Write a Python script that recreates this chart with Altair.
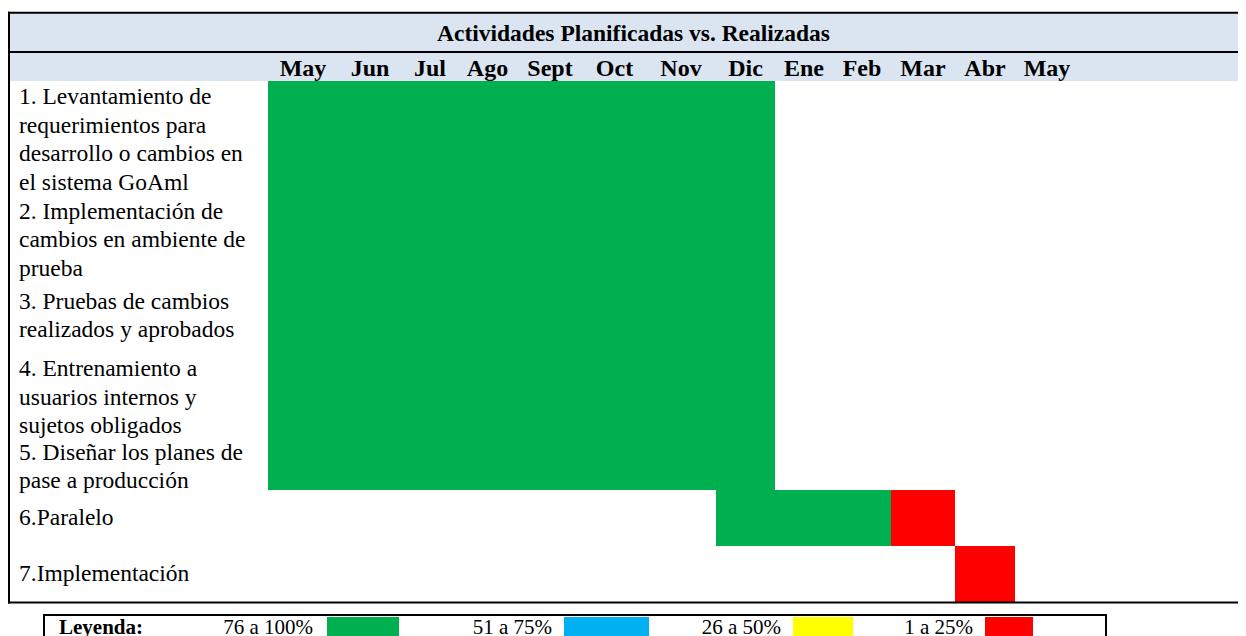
import altair as alt
import pandas as pd

# ---------------- data ----------------
title = "Actividades Planificadas vs. Realizadas"
months = ["May", "Jun", "Jul", "Ago", "Sept", "Oct", "Nov", "Dic",
          "Ene", "Feb", "Mar", "Abr", "May"]
activities = [
    "1. Levantamiento de\nrequerimientos para\ndesarrollo o cambios en\nel sistema GoAml",
    "2. Implementación de\ncambios en ambiente de\nprueba",
    "3. Pruebas de cambios\nrealizados y aprobados",
    "4. Entrenamiento a\nusuarios internos y\nsujetos obligados",
    "5. Diseñar los planes de\npase a producción",
    "6.Paralelo",
    "7.Implementación",
]
# bar segments: activity index, first month index, last month index (inclusive), progress band
seg_activity = [0, 1, 2, 3, 4, 5, 5, 6]
seg_first = [0, 0, 0, 0, 0, 7, 10, 11]
seg_last = [7, 7, 7, 7, 7, 9, 10, 11]
seg_status = ["76 a 100%", "76 a 100%", "76 a 100%", "76 a 100%", "76 a 100%",
              "76 a 100%", "1 a 25%", "1 a 25%"]
legend_title = "Leyenda:"
legend_labels = ["76 a 100%", "51 a 75%", "26 a 50%", "1 a 25%"]
legend_colors = ["#00B050", "#00B0F0", "#FFFF00", "#FF0000"]

# ---------------- layout (pixels) ----------------
W, H = 1230, 628
COL_EDGES = [260, 330, 394, 450, 509, 575, 638, 708, 767, 825, 883, 947, 1007, 1071]
ROW_EDGES = [73, 191, 273, 343, 436, 482, 538, 594]
LEG_TEXT_RIGHT = [305, 544, 773, 965]
LEG_SWATCH = [(319, 391), (556, 641), (785, 845), (977, 1025)]
FONT = "Liberation Serif"
HEADER_BG = "#DBE5F1"
LINE_H = 28.5

xs = alt.Scale(domain=list(range(len(COL_EDGES))), range=COL_EDGES, nice=False, zero=False)
ys = alt.Scale(domain=list(range(len(ROW_EDGES))), range=ROW_EDGES, nice=False, zero=False)
cs = alt.Scale(domain=legend_labels, range=legend_colors)

seg = pd.DataFrame({
    "row": seg_activity,
    "x0": seg_first,
    "x1": [v + 1 for v in seg_last],
    "status": seg_status,
})
seg["row2"] = seg["row"] + 1

mdf = pd.DataFrame({"month": months, "mid": [i + 0.5 for i in range(len(months))]})
adf = pd.DataFrame({
    "label": activities,
    "mid": [i + 0.5 for i in range(len(activities))],
    "nlines": [a.count("\n") + 1 for a in activities],
})

one = pd.DataFrame({"a": [0]})

header = alt.Chart(one).mark_rect(color=HEADER_BG).encode(
    x=alt.value(0), x2=alt.value(W), y=alt.value(5), y2=alt.value(73))

bars = alt.Chart(seg).mark_rect().encode(
    x=alt.X("x0:Q", scale=xs, axis=None),
    x2="x1:Q",
    y=alt.Y("row:Q", scale=ys, axis=None),
    y2="row2:Q",
    color=alt.Color("status:N", scale=cs, legend=None),
)

month_text = alt.Chart(mdf).mark_text(
    font=FONT, fontSize=24, fontWeight="bold", align="center", baseline="alphabetic", color="black"
).encode(
    x=alt.X("mid:Q", scale=xs, axis=None),
    y=alt.value(68),
    text="month:N",
)

# row labels: one layer per line count so that each multi-line block is centred in its row
row_text_layers = []
for n in sorted(set(adf["nlines"])):
    row_text_layers.append(
        alt.Chart(adf).transform_filter(alt.datum.nlines == n).mark_text(
            font=FONT, fontSize=23.5, align="left", baseline="middle", lineBreak="\n",
            lineHeight=LINE_H, color="black", dy=-(n - 1) * LINE_H / 2
        ).encode(
            x=alt.value(11),
            y=alt.Y("mid:Q", scale=ys, axis=None),
            text="label:N",
        )
    )

title_text = alt.Chart(one).mark_text(
    font=FONT, fontSize=23.5, fontWeight="bold", align="center", baseline="alphabetic", color="black"
).encode(x=alt.value(625.5), y=alt.value(33), text=alt.value(title))


def hrule(y, x1=0, x2=W, w=2):
    return alt.Chart(one).mark_rule(color="black", strokeWidth=w).encode(
        x=alt.value(x1), x2=alt.value(x2), y=alt.value(y))


def vrule(x, y1, y2, w=2):
    return alt.Chart(one).mark_rule(color="black", strokeWidth=w).encode(
        x=alt.value(x), y=alt.value(y1), y2=alt.value(y2))


lines = [
    hrule(4.7),
    hrule(44),
    hrule(594.5),
    vrule(1, 3.7, 595.5),
]

# legend
legend_layers = [
    alt.Chart(one).mark_rect(fill="white", stroke="black", strokeWidth=2).encode(
        x=alt.value(36), x2=alt.value(1098), y=alt.value(607), y2=alt.value(660)),
    alt.Chart(one).mark_text(font=FONT, fontSize=21, fontWeight="bold", align="left",
                             baseline="alphabetic", color="black").encode(
        x=alt.value(51), y=alt.value(625.5), text=alt.value(legend_title)),
]
for lab, col, xr, (s0, s1) in zip(legend_labels, legend_colors, LEG_TEXT_RIGHT, LEG_SWATCH):
    legend_layers.append(
        alt.Chart(one).mark_text(font=FONT, fontSize=21, align="right",
                                 baseline="alphabetic", color="black").encode(
            x=alt.value(xr), y=alt.value(625.5), text=alt.value(lab)))
    legend_layers.append(
        alt.Chart(one).mark_rect(color=col).encode(
            x=alt.value(s0), x2=alt.value(s1), y=alt.value(609), y2=alt.value(660)))

chart = alt.layer(
    header, bars, month_text, *row_text_layers, title_text, *lines, *legend_layers
).properties(
    width=W, height=H, padding=0, autosize=alt.AutoSizeParams(type="none")
).configure_view(stroke=None)

chart.save("out.html", embed_options={"renderer": "svg", "actions": False})
